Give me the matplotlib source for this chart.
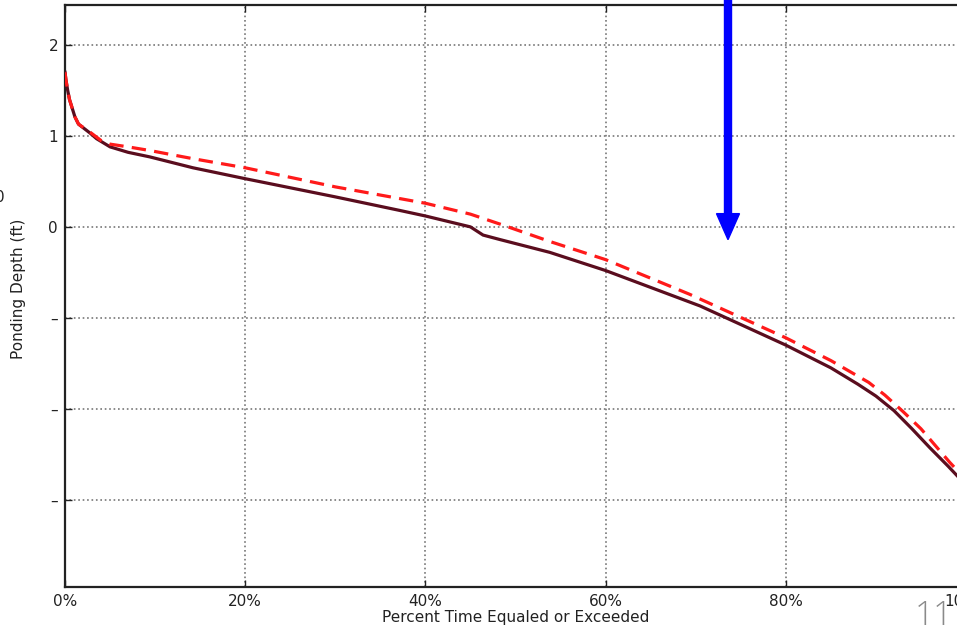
"""
Ponding depth duration curve (two scenarios) with slide decorations.
"""
import numpy as np
import matplotlib.pyplot as plt
from matplotlib.patches import FancyArrow
from matplotlib.ticker import FuncFormatter

# Data

# solid curve (dark maroon)
solid_pct = [0, 0.1, 0.3, 0.5, 1.1, 1.5, 2.8, 3.5, 5, 7, 9.4, 14.2, 20, 30, 37.2, 40,
             45, 46.4, 48.3, 53.8, 60, 70.5, 80, 85, 88, 90, 92, 94, 96, 98, 100]
solid_depth = [1.70, 1.62, 1.50, 1.40, 1.21, 1.13, 1.03, 0.97, 0.88, 0.82, 0.77,
               0.65, 0.53, 0.33, 0.18, 0.12, 0.0, -0.09, -0.14, -0.28, -0.48,
               -0.87, -1.30, -1.55, -1.73, -1.86, -2.02, -2.22, -2.43, -2.63, -2.84]

# dashed curve (red)
dashed_pct = [0, 0.1, 0.3, 0.5, 1.1, 1.5, 2.8, 4, 5, 7, 9.4, 14.2, 20, 30, 40, 45,
              48.6, 53.8, 60, 69.3, 80, 85, 89.2, 91, 93, 95, 98.2, 100]
dashed_depth = [1.70, 1.62, 1.50, 1.40, 1.21, 1.13, 1.04, 0.95, 0.91, 0.88, 0.84,
                0.75, 0.65, 0.44, 0.26, 0.14, 0.02, -0.16, -0.36, -0.74, -1.22,
                -1.47, -1.71, -1.85, -2.03, -2.22, -2.59, -2.78]

y_ticks = [-3, -2, -1, 0, 1, 2]
y_tick_labels = ['\u2013', '\u2013', '\u2013', '0', '1', '2']
x_ticks = [0, 20, 40, 60, 80, 100]

W, H = 957, 635
fig = plt.figure(figsize=(W / 100, H / 100), dpi=100)

# axes box (right edge runs off the slide, as in the screenshot)
ax = fig.add_axes([65 / W, (H - 587) / H, (966 - 65) / W, (587 - 5) / H])

ax.plot(solid_pct, solid_depth, color='#5a0d1e', lw=2.3, zorder=3)
ax.plot(dashed_pct, dashed_depth, color='#ff1a1a', lw=2.3, ls=(0, (4.5, 2.6)), zorder=4)

ax.set_xlim(0, 100)
ax.set_ylim(-3.96, 2.44)
ax.set_xticks(x_ticks)
ax.xaxis.set_major_formatter(FuncFormatter(lambda v, p: f"{v:.0f}%"))
ax.set_yticks(y_ticks)
ax.set_yticklabels(y_tick_labels)

ax.grid(True, ls=':', color='#777777', lw=1.2)
ax.tick_params(direction='in', length=5, width=1, top=True, right=True,
               labelsize=11, colors='#222222', pad=5)
for s in ax.spines.values():
    s.set_linewidth(1.6)
    s.set_color('#222222')

ax.set_xlabel('Percent Time Equaled or Exceeded', fontsize=11, color='#222222')
ax.set_ylabel('Ponding Depth (ft)', fontsize=11, color='#222222')
ax.xaxis.set_label_coords(0.5005, -(610 - 587) / 582)
ax.yaxis.set_label_coords(-(65 - 26) / 901, 0.513)

# slide decorations
fig.add_artist(FancyArrow(728 / W, 1.01, 0, -(246 / H), width=7 / W,
                          head_width=23 / W, head_length=26 / H,
                          length_includes_head=True, color='#0000ff',
                          transform=fig.transFigure, zorder=10))
fig.text(0.0, 1 - 197 / H, '0', ha='center', va='center', fontsize=11, color='#222222')
fig.text(934 / W, 1 - 616 / H, '11', ha='center', va='center', fontsize=24,
         color='#8a8a8a', family='Open Sans', fontweight='light')

fig.savefig('out.png', dpi=100)
